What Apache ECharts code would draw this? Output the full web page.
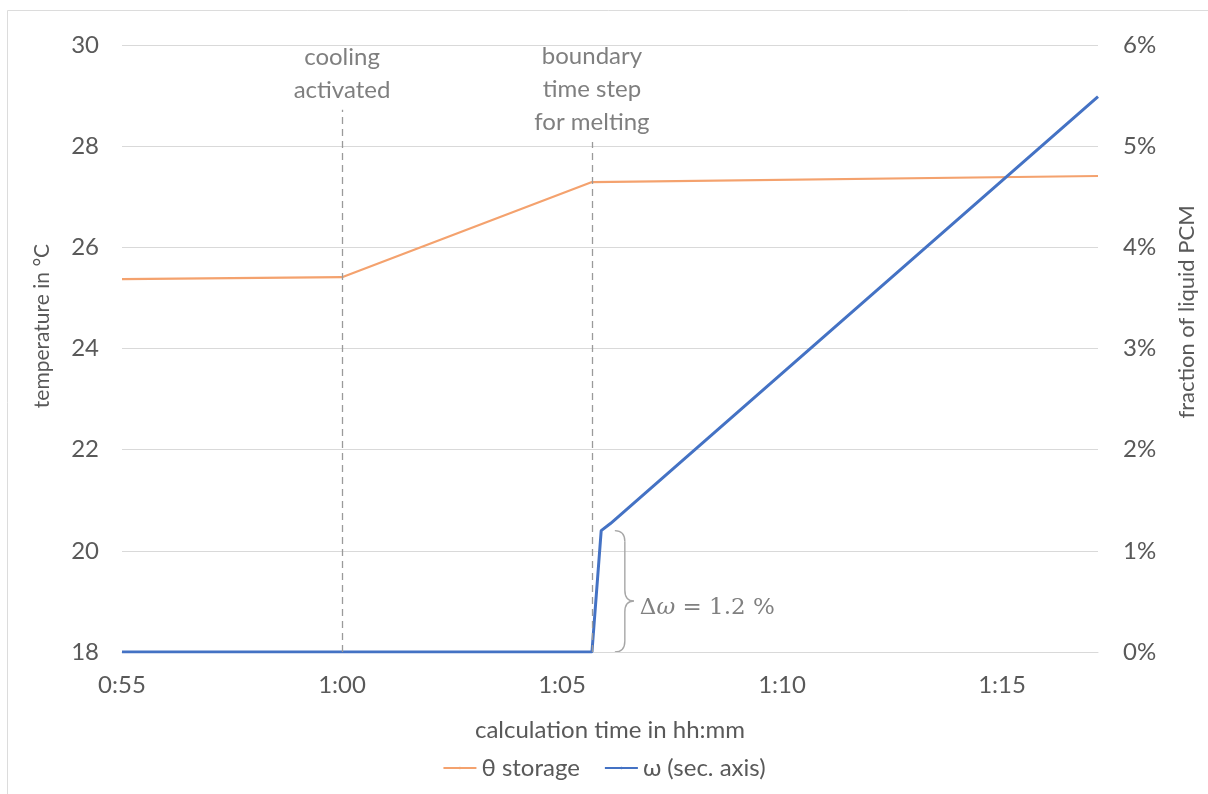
<!DOCTYPE html>
<html>
<head>
<meta charset="utf-8">
<title>Storage temperature and liquid PCM fraction</title>
<script src="https://cdn.jsdelivr.net/npm/echarts@6/dist/echarts.min.js"></script>
<style>
  html, body { margin: 0; padding: 0; background: #ffffff; }
  #chart { width: 1208px; height: 794px; }
</style>
</head>
<body>
<div id="chart"></div>
<script>
// Time is given in minutes since 0:00 (55 = 0:55).
const timeAxisMin = 55;
const timeAxisMax = 77.18;
const timeTickStep = 5;

// θ storage in °C (left axis)
const storageTime = [55, 60.0, 65.68, 77.18];
const storageTemp = [25.37, 25.41, 27.29, 27.41];

// ω, fraction of liquid PCM in % (secondary axis)
const omegaTime = [55, 65.68, 65.89, 66.1, 77.18];
const omegaValue = [0, 0, 1.2, 1.27, 5.49];

// Event markers on the time axis
const coolingStart = 60.0;
const meltingBoundary = 65.68;
const coolingLabel = ['cooling', 'activated'];
const boundaryLabel = ['boundary', 'time step', 'for melting'];
const coolingLineTop = 28.72;
const boundaryLineTop = 28.08;

// Jump in ω at the melting boundary
const deltaOmega = 1.2;
const braceAt = 66.2;

const leftTicks = { min: 18, max: 30, interval: 2 };
const rightTicks = { min: 0, max: 6, interval: 1 };

const FONT = 'Lato, "Open Sans", sans-serif';
const FS = 24;
const GREY_TEXT = '#595959';

function fmtTime(v) {
  if (Math.abs(v % timeTickStep) > 1e-6) return '';
  const h = Math.floor(v / 60);
  const m = Math.round(v - h * 60);
  return h + ':' + (m < 10 ? '0' + m : m);
}

const chart = echarts.init(document.getElementById('chart'), null, { renderer: 'canvas' });

const option = {
  backgroundColor: '#ffffff',
  animation: false,
  textStyle: { fontFamily: FONT },
  grid: { left: 122, right: 110, top: 45, bottom: 142, containLabel: false },
  legend: {
    bottom: 9,
    left: 'center',
    itemWidth: 33,
    itemHeight: 3,
    itemGap: 24,
    textStyle: { color: GREY_TEXT, fontSize: FS, fontFamily: FONT },
    data: ['θ storage', 'ω (sec. axis)']
  },
  xAxis: {
    type: 'value',
    min: timeAxisMin,
    max: timeAxisMax,
    interval: timeTickStep,
    name: 'calculation time in hh:mm',
    nameLocation: 'middle',
    nameGap: 66,
    nameTextStyle: { color: GREY_TEXT, fontSize: FS, fontFamily: FONT },
    axisLine: { show: true, lineStyle: { color: '#d9d9d9', width: 1 } },
    axisTick: { show: false },
    splitLine: { show: false },
    axisLabel: {
      color: GREY_TEXT, fontSize: FS, margin: 21, fontFamily: FONT,
      showMaxLabel: false,
      formatter: fmtTime
    }
  },
  yAxis: [
    {
      type: 'value',
      min: leftTicks.min, max: leftTicks.max, interval: leftTicks.interval,
      axisLine: { show: false },
      axisTick: { show: false },
      splitLine: { show: true, lineStyle: { color: '#d9d9d9', width: 1 } },
      axisLabel: { color: GREY_TEXT, fontSize: FS, margin: 23, fontFamily: FONT }
    },
    {
      type: 'value',
      min: rightTicks.min, max: rightTicks.max, interval: rightTicks.interval,
      position: 'right',
      axisLine: { show: false },
      axisTick: { show: false },
      splitLine: { show: false },
      axisLabel: {
        color: GREY_TEXT, fontSize: FS, margin: 25, fontFamily: FONT,
        formatter: v => v + '%'
      }
    }
  ],
  series: [
    {
      name: 'θ storage',
      type: 'line',
      yAxisIndex: 0,
      symbol: 'none',
      lineStyle: { color: '#F4A26E', width: 2.2 },
      itemStyle: { color: '#F4A26E' },
      data: storageTime.map((t, i) => [t, storageTemp[i]]),
      z: 3,
      markLine: {
        silent: true,
        symbol: 'none',
        animation: false,
        lineStyle: { color: '#9a9a9a', type: [7, 5], width: 1.3 },
        label: {
          show: true,
          position: 'end',
          distance: 3,
          color: '#7f7f7f',
          fontSize: FS,
          lineHeight: 33,
          fontFamily: FONT
        },
        data: [
          [
            { coord: [coolingStart, leftTicks.min] },
            { coord: [coolingStart, coolingLineTop], label: { formatter: coolingLabel.join('\n') } }
          ],
          [
            { coord: [meltingBoundary, leftTicks.min] },
            { coord: [meltingBoundary, boundaryLineTop], label: { formatter: boundaryLabel.join('\n') } }
          ]
        ]
      }
    },
    {
      name: 'ω (sec. axis)',
      type: 'line',
      yAxisIndex: 1,
      symbol: 'none',
      lineStyle: { color: '#4472C4', width: 3 },
      itemStyle: { color: '#4472C4' },
      data: omegaTime.map((t, i) => [t, omegaValue[i]]),
      z: 4
    }
  ]
};

chart.setOption(option);

// Axis titles, chart border and the Δω brace are placed from axis coordinates.
function drawExtras() {
  const bottom = chart.convertToPixel({ xAxisIndex: 0, yAxisIndex: 1 }, [braceAt, 0]);
  const top = chart.convertToPixel({ xAxisIndex: 0, yAxisIndex: 1 }, [braceAt, deltaOmega]);
  const x0 = bottom[0];
  const yb = bottom[1];
  const yt = top[1];
  const ym = yt + (yb - yt) * 0.58;
  const x1 = x0 + 10;
  const x2 = x0 + 19;
  const r = 11;
  const braceStyle = { fill: null, stroke: '#a6a6a6', lineWidth: 1.4 };
  const curve = (ax, ay, cx, cy, bx, by) => ({
    type: 'bezierCurve', silent: true,
    shape: { x1: ax, y1: ay, cpx1: cx, cpy1: cy, x2: bx, y2: by },
    style: braceStyle
  });
  const seg = (ax, ay, bx, by) => ({
    type: 'line', silent: true,
    shape: { x1: ax, y1: ay, x2: bx, y2: by },
    style: braceStyle
  });

  chart.setOption({
    graphic: [
      {
        type: 'rect', silent: true, z: -1,
        shape: { x: 7.5, y: 10.5, width: 1220, height: 800 },
        style: { fill: null, stroke: '#dcdcdc', lineWidth: 1 }
      },
      curve(x0, yt, x1, yt, x1, yt + r),
      seg(x1, yt + r, x1, ym - r),
      curve(x1, ym - r, x1, ym, x2, ym),
      curve(x2, ym, x1, ym, x1, ym + r),
      seg(x1, ym + r, x1, yb - r),
      curve(x1, yb - r, x1, yb, x0, yb),
      {
        type: 'text', silent: true,
        x: x2 + 6, y: ym + 7,
        style: {
          text: '{n|Δ}{i|ω}{n| = 1.2 %}',
          verticalAlign: 'middle',
          rich: {
            n: { fontFamily: '"DejaVu Serif", "Liberation Serif", serif', fontSize: 23, fill: '#808080' },
            i: { fontFamily: '"DejaVu Serif", "Liberation Serif", serif', fontSize: 23, fontStyle: 'italic', fill: '#808080' }
          }
        }
      },
      {
        type: 'text', silent: true,
        x: 42, y: 326, rotation: Math.PI / 2,
        style: {
          text: 'temperature in °C',
          fontFamily: FONT, fontSize: 21, fill: GREY_TEXT,
          align: 'center', verticalAlign: 'middle'
        }
      },
      {
        type: 'text', silent: true,
        x: 1187, y: 312, rotation: Math.PI / 2,
        style: {
          text: 'fraction of liquid PCM',
          fontFamily: FONT, fontSize: 22, fill: GREY_TEXT,
          align: 'center', verticalAlign: 'middle'
        }
      }
    ]
  });
}

drawExtras();
</script>
</body>
</html>
